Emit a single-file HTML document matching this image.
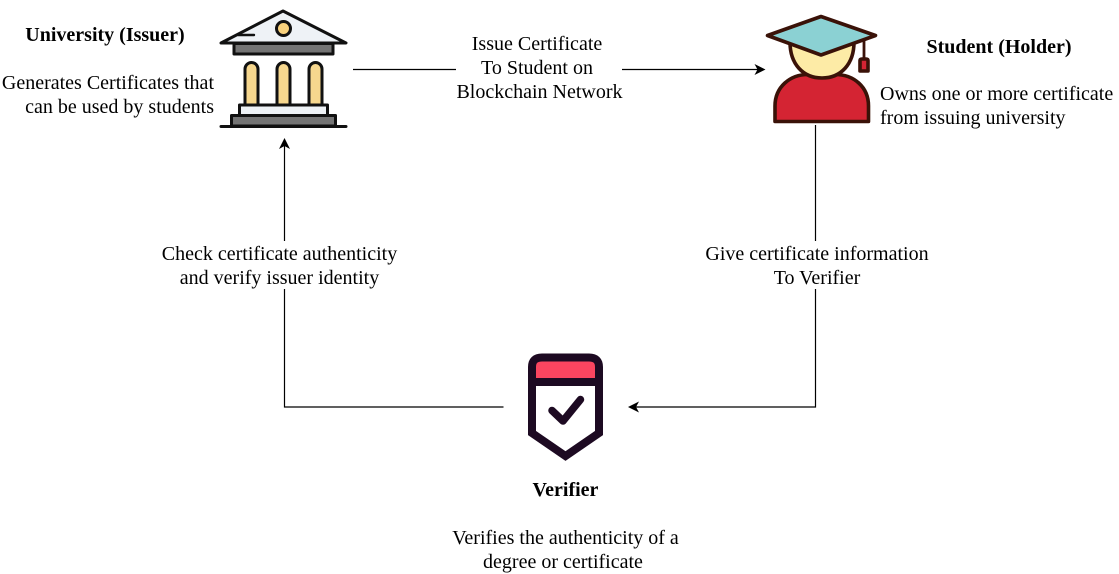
<!DOCTYPE html>
<html>
<head>
<meta charset="utf-8">
<style>
html,body{margin:0;padding:0;background:#fff;}
body{width:1119px;height:574px;overflow:hidden;position:relative;}
svg{position:absolute;left:0;top:0;}
text{font-family:"Liberation Serif",serif;font-size:20px;fill:#000;}
.b{font-weight:bold;}
.m{text-anchor:middle;}
.e{text-anchor:end;}
</style>
</head>
<body>
<svg width="1119" height="574" viewBox="0 0 1119 574">
<!-- connectors -->
<g fill="none" stroke="#000" stroke-width="1.2">
<path d="M353 69.5H456"/>
<path d="M622 69.5H758"/>
<path d="M284.5 241V146"/>
<path d="M284.5 289V407H503.500"/>
<path d="M815.500 125V241"/>
<path d="M815.500 289V407H636"/>
</g>
<g fill="#000">
<path d="M765.500 69.500L754.500 75L757.500 69.500L754.500 64Z"/>
<path d="M284.500 138L290 149L284.500 146L279 149Z"/>
<path d="M628 407L639 401.500L636 407L639 412.500Z"/>
</g>
<!-- university -->
<g stroke="#111" stroke-width="3" stroke-linejoin="round">
<path d="M221 43L283 11L346 43Z" fill="#eef2f6"/>
<path d="M238 35H254" fill="none" stroke-linecap="round" stroke-width="2.400"/>
<circle cx="283.500" cy="28.500" r="7" fill="#f9d27d"/>
<rect x="234" y="43.500" width="99" height="10.500" fill="#747474"/>
<path d="M245 105V69a6.500 6.500 0 0 1 13 0V105Z" fill="#f6d78e"/>
<path d="M277 105V69a6.500 6.500 0 0 1 13 0V105Z" fill="#f6d78e"/>
<path d="M309 105V69a6.500 6.500 0 0 1 13 0V105Z" fill="#f6d78e"/>
<rect x="239.500" y="105" width="88" height="10.500" fill="#eef2f6"/>
<rect x="231.500" y="115.500" width="104" height="10.500" fill="#747474"/>
<path d="M221 126.500H346" fill="none" stroke-linecap="round"/>
</g>
<!-- student -->
<g stroke="#3a1208" stroke-width="3.600" stroke-linejoin="round">
<path d="M775 121.500V106C775 87 790 74.500 808 74.500H835C854 74.500 868.500 87 868.500 106V121.500Z" fill="#d42433"/>
<path d="M790 42C790 64 803 78 822 78C841 78 854 64 854 42Z" fill="#fdeba6"/>
<path d="M821 16.500L875.500 35.500L821 55L767.500 35.500Z" fill="#8bd1d3"/>
<path d="M864 40V59" fill="none" stroke-width="2.800"/>
<path d="M860 60.500Q860 59 862 59H866Q868 59 868 60.500V71H860Z" fill="#d42433"/>
</g>
<!-- verifier -->
<path d="M532 381V367Q532 357.500 541.500 357.500H589.500Q599 357.500 599 367V381Z" fill="#fb4560"/>
<path d="M532.500 382H598.500V432.500L565.500 455.500L532.500 432.500Z" fill="#fff"/>
<path d="M532 382V367Q532 357.500 542 357.500H589Q599 357.500 599 367V433L565.500 456L532 433Z" fill="none" stroke="#1d0a22" stroke-width="8" stroke-linejoin="miter"/>
<path d="M532 382H599" stroke="#1d0a22" stroke-width="8" fill="none"/>
<path d="M552 410.500L563 421L580.500 399.500" stroke="#1d0a22" stroke-width="7.500" stroke-linecap="round" stroke-linejoin="round" fill="none"/>
<!-- text -->
<text x="105" y="41" class="b m">University (Issuer)</text>
<text x="214" y="89" class="e">Generates Certificates that</text>
<text x="214" y="113" class="e">can be used by students</text>
<text x="537" y="50" class="m">Issue Certificate</text>
<text x="537" y="74" class="m">To Student on</text>
<text x="539.500" y="98" class="m">Blockchain Network</text>
<text x="999" y="53" class="b m">Student (Holder)</text>
<text x="880" y="100">Owns one or more certificate</text>
<text x="880" y="124">from issuing university</text>
<text x="279.500" y="260" class="m">Check certificate authenticity</text>
<text x="279.500" y="284" class="m">and verify issuer identity</text>
<text x="817" y="260" class="m">Give certificate information</text>
<text x="817" y="284" class="m">To Verifier</text>
<text x="565.500" y="496" class="b m">Verifier</text>
<text x="565.500" y="544" class="m">Verifies the authenticity of a</text>
<text x="563" y="568" class="m">degree or certificate</text>
</svg>
</body>
</html>
